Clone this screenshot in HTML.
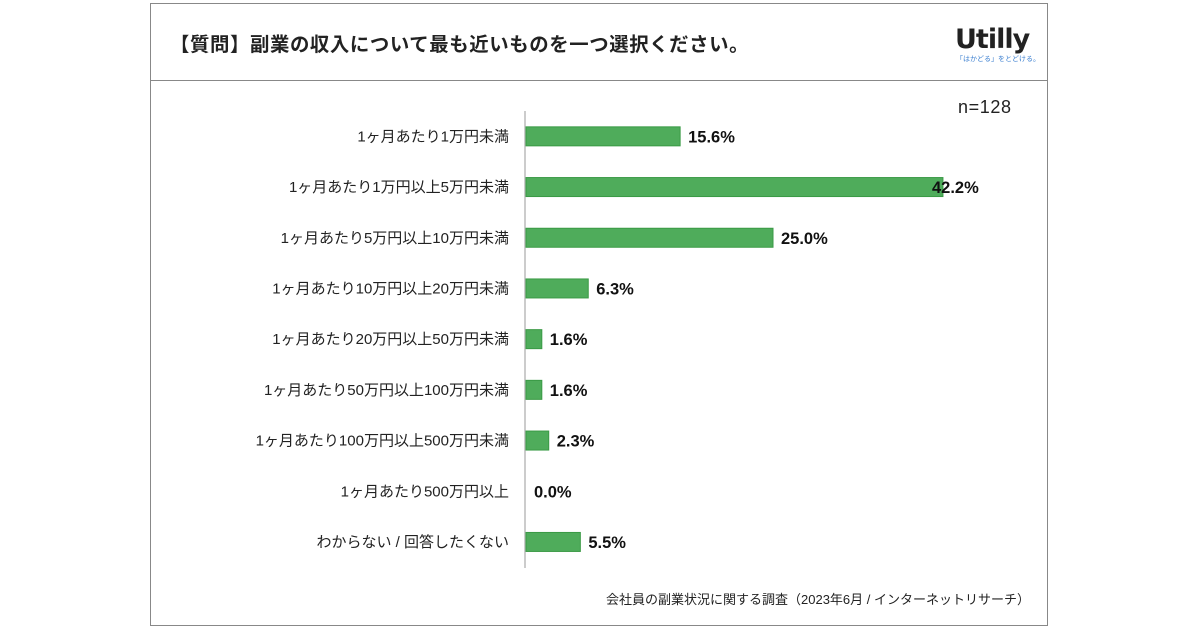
<!DOCTYPE html>
<html><head><meta charset="utf-8">
<style>
body{margin:0;width:1200px;height:630px;background:#fff;overflow:hidden;font-family:"Liberation Sans","Noto Sans CJK JP",sans-serif;}
#frame{position:absolute;left:150px;top:3px;width:898px;height:623px;border:1px solid #888;box-sizing:border-box;}
#hdr{position:absolute;left:150px;top:80px;width:898px;height:1px;background:#888;}
#title{position:absolute;left:170px;top:28px;font-size:19.4px;font-weight:bold;color:#222;letter-spacing:0.6px;}
#logo{position:absolute;left:955px;top:24px;font-size:27px;font-weight:bold;color:#222;font-family:"DejaVu Sans","Liberation Sans",sans-serif;letter-spacing:-1px;}
#tag{position:absolute;left:956px;top:54px;font-size:7px;color:#3b7fd0;}
#n{position:absolute;left:958px;top:97px;font-size:18px;color:#222;letter-spacing:0.6px;}
#src{position:absolute;right:170px;top:589px;font-size:13px;color:#222;}
</style></head><body>
<div id="frame"></div>
<div id="hdr"></div>
<div id="title">【質問】副業の収入について最も近いものを一つ選択ください。</div>
<div id="logo">Utilly</div>
<div id="tag">「はかどる」をとどける。</div>
<div id="n">n=128</div>
<div id="src">会社員の副業状況に関する調査（2023年6月 / インターネットリサーチ）</div>
<svg id="chart" width="1200" height="630" style="position:absolute;left:0;top:0"></svg>
<script>
const categories=["1ヶ月あたり1万円未満","1ヶ月あたり1万円以上5万円未満","1ヶ月あたり5万円以上10万円未満","1ヶ月あたり10万円以上20万円未満","1ヶ月あたり20万円以上50万円未満","1ヶ月あたり50万円以上100万円未満","1ヶ月あたり100万円以上500万円未満","1ヶ月あたり500万円以上","わからない / 回答したくない"];
const values=[15.6,42.2,25.0,6.3,1.6,1.6,2.3,0.0,5.5];
const labels=["15.6%","42.2%","25.0%","6.3%","1.6%","1.6%","2.3%","0.0%","5.5%"];
const svg=document.getElementById('chart');
const NS="http://www.w3.org/2000/svg";
const x0=525, scale=9.88, yTop=111, step=50.7, barH=19;
const xs=v=>x0+v*scale;
const yc=i=>yTop+step*(i+0.5);
const ax=document.createElementNS(NS,'line');
ax.setAttribute('x1',x0);ax.setAttribute('x2',x0);ax.setAttribute('y1',111);ax.setAttribute('y2',568);
ax.setAttribute('stroke','#bbb');ax.setAttribute('stroke-width','1.5');


svg.appendChild(ax);
categories.forEach((c,i)=>{
  const y=yc(i);
  const t=document.createElementNS(NS,'text');
  t.setAttribute('x',509);t.setAttribute('y',y+5);t.setAttribute('text-anchor','end');
  t.setAttribute('font-size','15');t.setAttribute('fill','#222');t.textContent=c;
  
  
  svg.appendChild(t);
  const w=xs(values[i])-x0;
  if(w>0){
    const r=document.createElementNS(NS,'rect');
    r.setAttribute('x',x0+1);r.setAttribute('y',y-barH/2);r.setAttribute('width',w);r.setAttribute('height',barH);
    r.setAttribute('fill','#4fac5b');r.setAttribute('stroke','#3a9a45');r.setAttribute('stroke-width','1');
    
    
    svg.appendChild(r);
  }
  const v=document.createElementNS(NS,'text');
  v.setAttribute('x',Math.min(xs(values[i])+9,932));v.setAttribute('y',y+6);
  v.setAttribute('font-size','16.5');v.setAttribute('font-weight','bold');v.setAttribute('fill','#111');v.textContent=labels[i];
  
  
  svg.appendChild(v);
});
</script>
</body></html>
